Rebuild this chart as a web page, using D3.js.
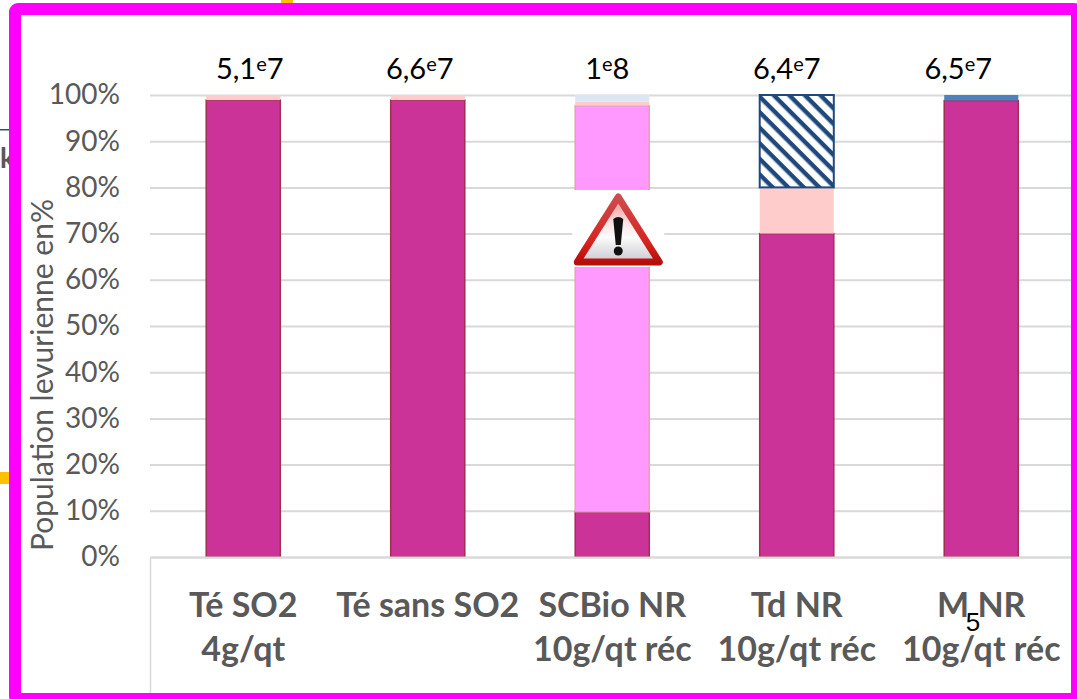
<!DOCTYPE html>
<html lang="fr">
<head>
    <meta charset="UTF-8">
    <script src="https://cdnjs.cloudflare.com/ajax/libs/d3/7.8.5/d3.min.js"></script>
    <style>
        html, body { margin: 0; padding: 0; background: #fff; overflow: hidden; }
        svg { display: block; }
        text { font-family: Lato, "Open Sans", sans-serif; }
    </style>
</head>
<body>
    <svg id="chart" width="1077" height="699"></svg>
    <script>
        const categories = ["Té SO2|4g/qt", "Té sans SO2", "SCBio NR|10g/qt réc", "Td NR|10g/qt réc", "M NR|10g/qt réc"];
        const totals = ["5,1e7", "6,6e7", "1e8", "6,4e7", "6,5e7"];
        const yTicks = [0, 10, 20, 30, 40, 50, 60, 70, 80, 90, 100];

        const magenta = [98.9, 98.9, 9.8, 70, 98.8];
        const lightPink = [0, 0, 87.9, 0, 0];
        const palePink = [1.1, 1.1, 0.9, 10, 0];
        const paleBlue = [0, 0, 1.4, 0, 0];
        const hatched = [0, 0, 0, 20, 0];
        const blue = [0, 0, 0, 0, 1.2];

        const seriesNames = ["magenta", "lightPink", "palePink", "paleBlue", "hatched", "blue"];
        const seriesValues = [magenta, lightPink, palePink, paleBlue, hatched, blue];
        const seriesFill = ["#cc3399", "#ff99ff", "#ffcccc", "#dce6f2", "url(#hatch)", "#4f81bd"];
        const seriesStroke = ["#a02f50", "#e8a0a8", "none", "none", "#1f497d", "none"];

        // the labels above the bars are not centred on them in the original
        const totalShift = [6.5, -8, -5, -10, -23];

        const svg = d3.select("#chart");
        const gray = "#595959", grid = "#d9d9d9";

        const defs = svg.append("defs");
        const hatch = defs.append("pattern")
            .attr("id", "hatch")
            .attr("width", 11)
            .attr("height", 11)
            .attr("patternUnits", "userSpaceOnUse")
            .attr("patternTransform", "translate(759,108.5) rotate(45)");
        hatch.append("rect").attr("width", 11).attr("height", 11).attr("fill", "#fff");
        hatch.append("rect").attr("y", 0).attr("width", 11).attr("height", 4.4).attr("fill", "#1f497d");

        const iconFill = defs.append("linearGradient")
            .attr("id", "iconFill").attr("x1", 0).attr("x2", 0).attr("y1", 0).attr("y2", 1);
        iconFill.append("stop").attr("offset", "0%").attr("stop-color", "#f58a8a");
        iconFill.append("stop").attr("offset", "40%").attr("stop-color", "#fbe3e3");
        iconFill.append("stop").attr("offset", "62%").attr("stop-color", "#fbfbfb");
        iconFill.append("stop").attr("offset", "100%").attr("stop-color", "#c9c9d2");

        const iconEdge = defs.append("linearGradient")
            .attr("id", "iconEdge").attr("x1", 0).attr("x2", 0).attr("y1", 0).attr("y2", 1);
        iconEdge.append("stop").attr("offset", "0%").attr("stop-color", "#cf4a4c");
        iconEdge.append("stop").attr("offset", "70%").attr("stop-color", "#d8231f");
        iconEdge.append("stop").attr("offset", "100%").attr("stop-color", "#b50f0c");

        const xScale = d3.scaleBand()
            .domain(categories)
            .range([151, 1073.5])
            .paddingInner(0.593)
            .paddingOuter(0.2965);
        const yScale = d3.scaleLinear().domain([0, 100]).range([557, 95]);

        // gridlines and y labels
        const yAxis = d3.axisLeft(yScale)
            .tickValues(yTicks)
            .tickSize(-921)
            .tickPadding(30)
            .tickFormat(d => d + "%");
        const yAxisG = svg.append("g")
            .attr("transform", "translate(150,0)")
            .call(yAxis);
        yAxisG.select(".domain").remove();
        yAxisG.selectAll("line").attr("stroke", grid).attr("stroke-width", 2);
        yAxisG.selectAll("text")
            .attr("fill", gray)
            .style("font-size", "28px");

        svg.append("text")
            .attr("transform", "translate(53,375) rotate(-90)")
            .attr("text-anchor", "middle")
            .attr("fill", gray)
            .style("font-size", "30px")
            .text("Population levurienne en%");

        // left border of the category area
        svg.append("line")
            .attr("x1", 150.5).attr("x2", 150.5)
            .attr("y1", yScale(0)).attr("y2", 695)
            .attr("stroke", grid).attr("stroke-width", 1.5);

        // stacked bars
        const rows = categories.map((c, i) => {
            const row = { category: c };
            seriesNames.forEach((name, s) => { row[name] = seriesValues[s][i]; });
            return row;
        });
        const stacked = d3.stack().keys(seriesNames)(rows);

        svg.selectAll("g.series")
            .data(stacked)
            .enter()
            .append("g")
            .attr("class", "series")
            .each(function (layer, s) {
                d3.select(this).selectAll("rect")
                    .data(layer.filter(d => d[1] > d[0]))
                    .enter()
                    .append("rect")
                    .attr("x", d => xScale(d.data.category) + 0.5)
                    .attr("width", xScale.bandwidth() - 1)
                    .attr("y", d => yScale(d[1]))
                    .attr("height", d => yScale(d[0]) - yScale(d[1]))
                    .attr("fill", seriesFill[s])
                    .attr("stroke", seriesStroke[s])
                    .attr("stroke-width", s === 4 ? 2 : 1.5);
            });

        // totals above the bars
        const totalLabels = svg.selectAll("text.total")
            .data(totals)
            .enter()
            .append("text")
            .attr("class", "total")
            .attr("x", (d, i) => xScale(categories[i]) + xScale.bandwidth() / 2 + totalShift[i])
            .attr("y", 79)
            .attr("text-anchor", "middle")
            .attr("fill", "#000")
            .style("font-size", "29px");
        totalLabels.each(function (d) {
            const parts = d.split("e");
            const t = d3.select(this);
            t.append("tspan").text(parts[0]);
            t.append("tspan").attr("dy", -8).style("font-size", "20px").text("e");
            t.append("tspan").attr("dy", 8).text(parts[1]);
        });

        // category labels
        const xAxis = d3.axisBottom(xScale).tickSize(0).tickFormat("");
        const xAxisG = svg.append("g")
            .attr("transform", "translate(0,557)")
            .call(xAxis);
        xAxisG.select(".domain").attr("stroke", grid).attr("stroke-width", 2);
        xAxisG.selectAll(".tick text")
            .attr("fill", gray)
            .style("font-size", "34px")
            .style("font-weight", 700)
            .each(function (d) {
                const lines = d.split("|");
                d3.select(this).selectAll("tspan")
                    .data(lines)
                    .enter()
                    .append("tspan")
                    .attr("x", 0)
                    .attr("y", (l, i) => 60 + i * 44)
                    .attr("dy", 0)
                    .text(l => l);
            });

        // warning image over the third bar
        const icon = svg.append("g")
            .attr("transform", `translate(${xScale(categories[2]) + xScale.bandwidth() / 2 + 6},228)`);
        icon.append("rect")
            .attr("x", -46).attr("y", -38).attr("width", 92).attr("height", 77)
            .attr("fill", "#fff");
        icon.append("path")
            .attr("d", "M0,-31 L41,34 L-41,34 Z")
            .attr("fill", "url(#iconFill)")
            .attr("stroke", "url(#iconEdge)")
            .attr("stroke-width", 7)
            .attr("stroke-linejoin", "round");
        icon.append("path")
            .attr("d", "M-5,-9 Q0,-13 5,-9 L2.5,17 L-2.5,17 Z")
            .attr("fill", "#111");
        icon.append("circle")
            .attr("cy", 23).attr("r", 4.5)
            .attr("fill", "#111");

        // stray "5" from the slide
        svg.append("text")
            .attr("x", 973)
            .attr("y", 631)
            .attr("text-anchor", "middle")
            .attr("fill", "#000")
            .style("font-family", "'Liberation Sans', sans-serif")
            .style("font-size", "26px")
            .text("5");

        // bits of the slide showing outside the frame
        svg.append("rect").attr("x", 281).attr("y", 0).attr("width", 12).attr("height", 3).attr("fill", "#ffc000");
        svg.append("rect").attr("x", 0).attr("y", 472).attr("width", 9).attr("height", 12).attr("fill", "#ffc000");
        svg.append("rect").attr("x", 0).attr("y", 129).attr("width", 9).attr("height", 1.5).attr("fill", "#1f5f5b");
        svg.append("text")
            .attr("x", 0).attr("y", 168)
            .attr("fill", gray)
            .style("font-size", "28px")
            .style("font-weight", 700)
            .text("k");

        // magenta frame, running off the right and bottom of the picture
        svg.append("rect")
            .attr("x", 15).attr("y", 9).attr("width", 1062).attr("height", 690)
            .attr("rx", 3)
            .attr("fill", "none")
            .attr("stroke", "#ff00ff")
            .attr("stroke-width", 12);
    </script>
</body>
</html>
